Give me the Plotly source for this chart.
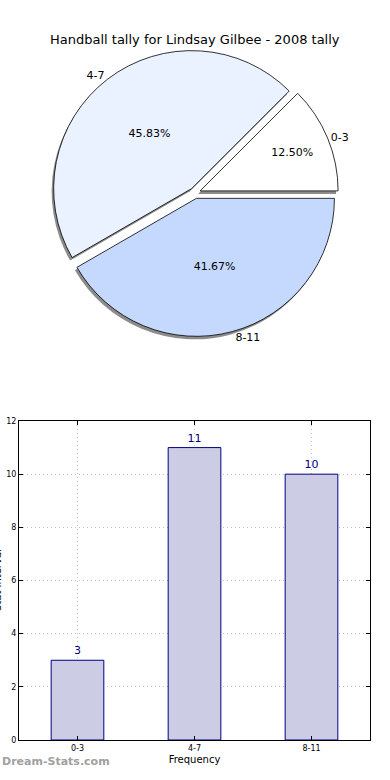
import plotly.graph_objects as go

title_text = "Handball tally for Lindsay Gilbee - 2008 tally"
categories = ["0-3", "4-7", "8-11"]
counts = [3, 11, 10]
pie_colors = ["#FFFFFF", "#EAF1FF", "#C5D9FF"]
y_ticks = [0, 2, 4, 6, 8, 10, 12]

W, H = 390, 780
FONT = "DejaVu Sans"

def px_x(p):
    return p / W

def px_y(p):
    return 1 - p / H

# pie geometry (pixels)
cx, cy, rad = 195, 193, 138
pull = 0.04
half = rad * (1 + pull)
dom_x = [px_x(cx - half), px_x(cx + half)]
dom_y = [px_y(cy + half), px_y(cy - half)]
sx, sy = -2, 3
shadow_x = [px_x(cx - half + sx), px_x(cx + half + sx)]
shadow_y = [px_y(cy + half + sy), px_y(cy - half + sy)]

fig = go.Figure()

pie_common = dict(labels=categories, values=counts, sort=False,
                  direction="counterclockwise", rotation=45, pull=[pull] * 3)

# shadow
fig.add_trace(go.Pie(
    **pie_common, domain=dict(x=shadow_x, y=shadow_y),
    marker=dict(colors=["#8c8c8c"] * 3, line=dict(color="#8c8c8c", width=0)),
    textinfo="none", hoverinfo="skip", showlegend=False,
))
# main pie with percentages
fig.add_trace(go.Pie(
    **pie_common, domain=dict(x=dom_x, y=dom_y),
    marker=dict(colors=pie_colors, line=dict(color="#000000", width=0.8)),
    texttemplate="%{percent:.2%}", textposition="inside", insidetextorientation="horizontal",
    textfont=dict(family=FONT, size=11, color="#000000"), showlegend=False,
))
# labels outside
fig.add_trace(go.Pie(
    **pie_common, domain=dict(x=dom_x, y=dom_y),
    marker=dict(colors=["rgba(0,0,0,0)"] * 3, line=dict(width=0)),
    texttemplate="%{label}", textposition="outside",
    textfont=dict(family=FONT, size=11, color="#000000"), showlegend=False,
    hoverinfo="skip",
))

# bar chart
fig.add_trace(go.Bar(
    x=categories, y=counts, width=0.45, text=[str(c) for c in counts],
    textposition="outside", textfont=dict(family=FONT, size=11, color="#000080"),
    marker=dict(color="#CCCDE5", line=dict(color="#000080", width=1)),
    cliponaxis=False, showlegend=False, xaxis="x", yaxis="y",
))

axis_common = dict(showline=True, linecolor="#000000", linewidth=1, mirror="ticks",
                   ticks="inside", ticklen=4, tickcolor="#000000",
                   showgrid=True, gridcolor="#c0c0c0", griddash="1px,3px", gridwidth=1,
                   zeroline=False, tickfont=dict(family=FONT, size=8, color="#000000"))

fig.update_layout(
    width=W, height=H, margin=dict(l=0, r=0, t=0, b=0),
    paper_bgcolor="#FFFFFF", plot_bgcolor="#FFFFFF",
    font=dict(family=FONT),
    xaxis=dict(domain=[px_x(19), px_x(370)], range=[-0.5, 2.5], anchor="y",
               automargin=False,
               title=dict(text="Frequency", font=dict(family=FONT, size=10, color="#000000"), standoff=4),
               **axis_common),
    yaxis=dict(domain=[px_y(740), px_y(421)], range=[0, 12], tickvals=y_ticks, anchor="x",
               automargin=False, **axis_common),
    annotations=[
        dict(text=title_text, x=0.5, y=px_y(30), xref="paper", yref="paper",
             showarrow=False, font=dict(family=FONT, size=13, color="#000000")),
        dict(text="Stat Interval", x=px_x(-3), y=px_y(580), xref="paper", yref="paper",
             xanchor="center", yanchor="middle",
             textangle=-90, showarrow=False, font=dict(family=FONT, size=10, color="#000000")),
        dict(text="<b>Dream-Stats.com</b>", x=px_x(0), y=px_y(770), xref="paper", yref="paper",
             xanchor="left", showarrow=False, font=dict(family=FONT, size=11, color="#a0a0a0")),
    ],
)

fig.write_html("out.html", config={"displayModeBar": False},
               post_script="document.body.style.margin='0';document.body.style.overflow='hidden';")
